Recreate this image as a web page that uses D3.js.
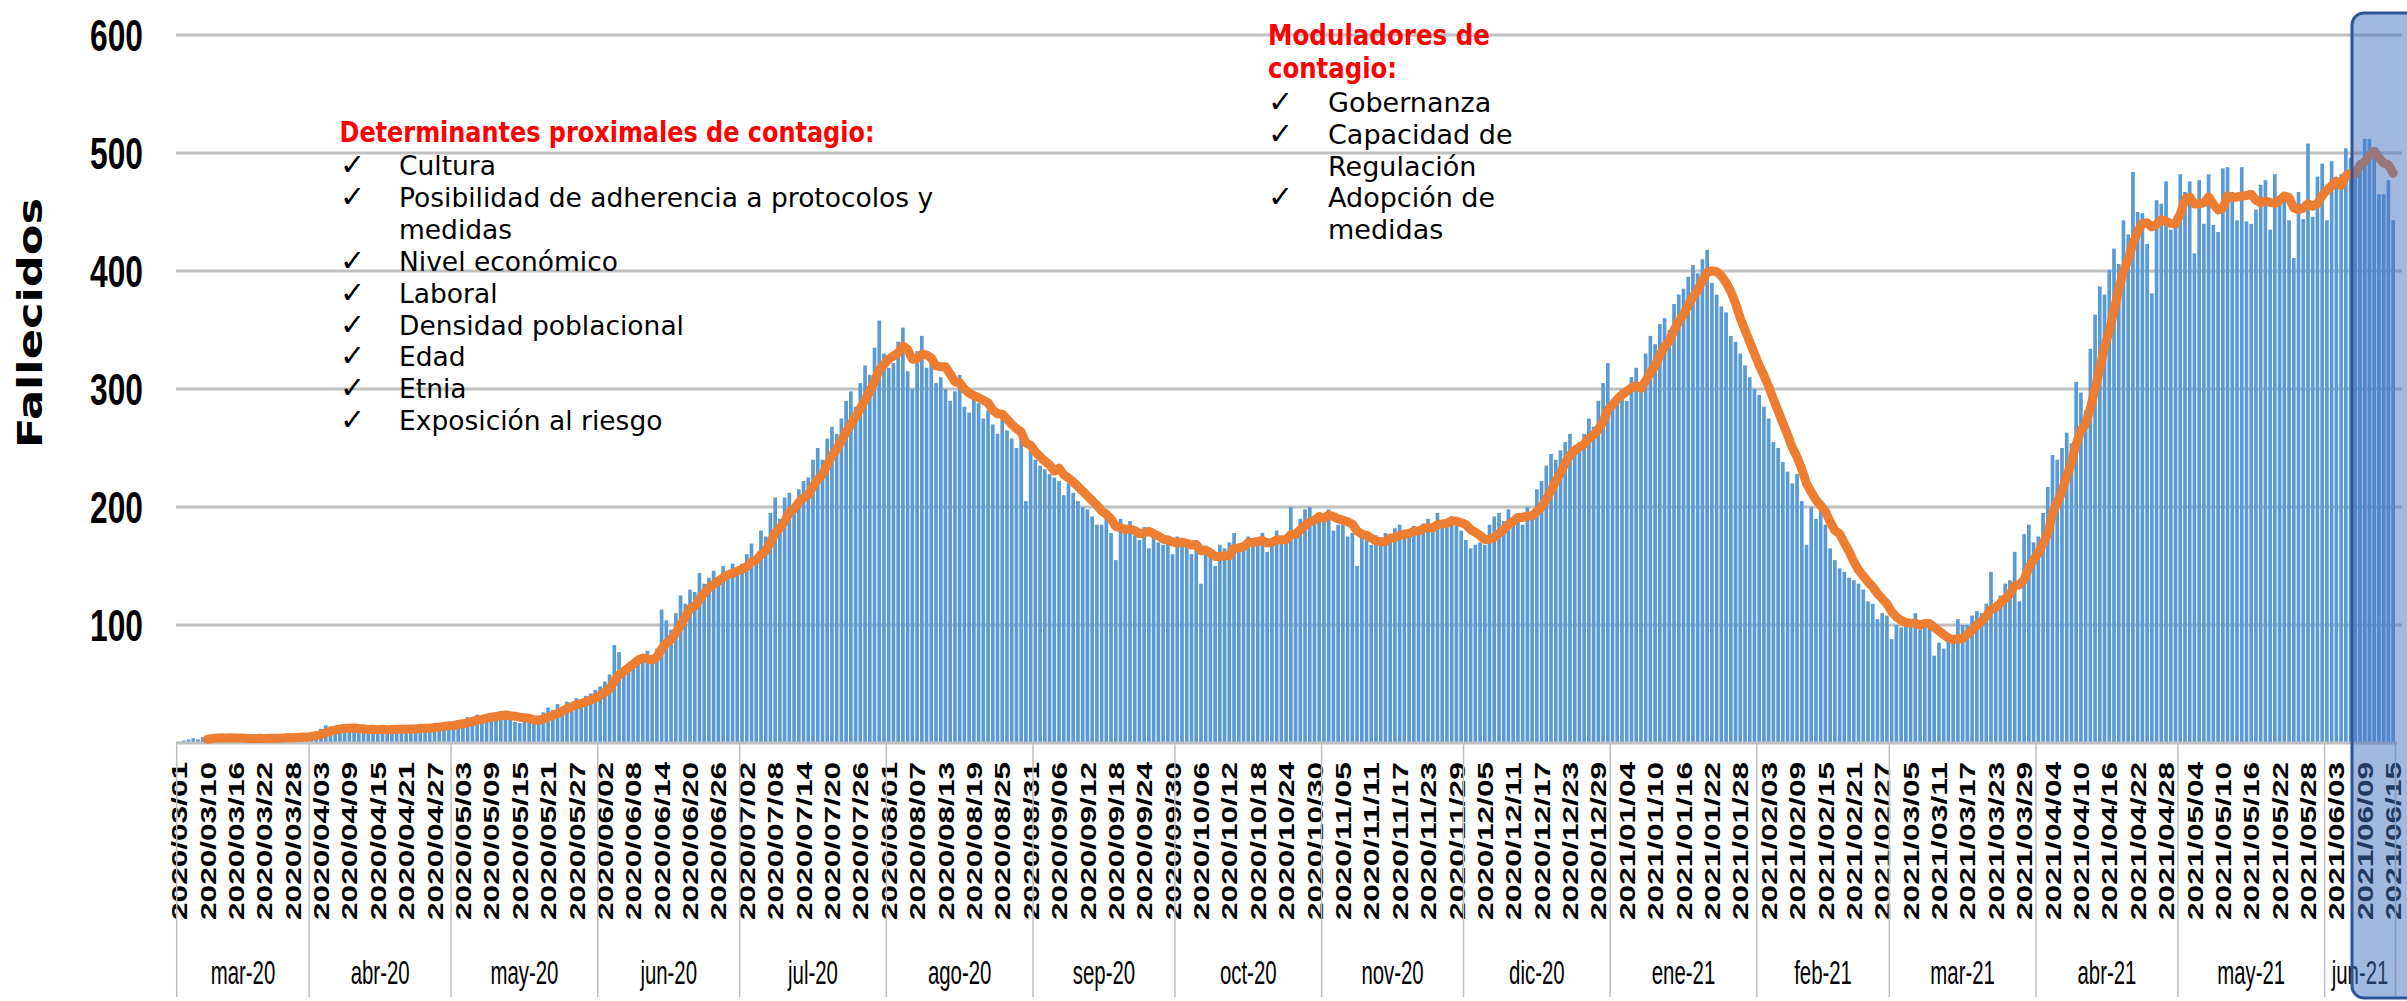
<!DOCTYPE html>
<html><head><meta charset="utf-8">
<script src="https://cdn.jsdelivr.net/npm/d3@7"></script>
<style>body{margin:0;background:#fff;overflow:hidden}</style>
</head><body>
<svg id="c" width="2407" height="1001"></svg>
<script>
// ---------- DATA ----------
const monthLabels = ["mar-20","abr-20","may-20","jun-20","jul-20","ago-20","sep-20","oct-20","nov-20","dic-20","ene-21","feb-21","mar-21","abr-21","may-21","jun-21"];
const monthYM = [[2020,3],[2020,4],[2020,5],[2020,6],[2020,7],[2020,8],[2020,9],[2020,10],[2020,11],[2020,12],[2021,1],[2021,2],[2021,3],[2021,4],[2021,5],[2021,6]];
const mar20Days = [1,5,6,7,8,9,10,11,12,13,14,15,16,17,18,19,20,21,22,23,24,25,26,27,28,29,30,31];
const mar20 = [1,2,3,4,3,5,4,6,5,4,3,4,3,5,4,3,4,5,3,4,5,4,5,6,4,5,6,5];
const abr20 = [8,10,12,15,14,13,11,12,10,14,11,13,9,12,10,13,11,12,14,10,12,11,13,15,12,14,16,13,15,17];
const may20 = [16,19,18,22,20,24,21,23,25,22,27,24,20,18,17,22,19,18,21,26,30,28,33,31,35,32,38,36,40,42,45];
const jun20 = [48,52,58,83,77,62,66,70,74,72,78,71,80,113,104,96,110,125,118,130,128,144,135,140,146,138,150,145,152,148];
const jul20 = [152,160,169,158,180,175,195,208,190,208,212,200,215,222,225,240,250,240,258,268,262,275,290,298,285,305,320,312,335,358,330];
const ago20 = [318,322,340,352,315,300,332,345,318,322,305,310,300,290,298,312,285,280,296,288,275,282,270,262,278,265,258,250,262,205,248];
const sep20 = [240,235,232,228,225,222,210,220,212,205,200,198,192,185,185,192,178,155,190,182,188,176,172,183,165,175,170,168,172,160];
const oct20 = [175,172,168,160,170,135,165,158,150,168,165,170,178,168,165,175,170,168,178,162,172,180,175,170,200,178,190,198,200,185,192];
const nov20 = [190,198,180,185,192,175,178,150,180,172,168,176,170,178,172,182,185,176,180,184,178,186,190,182,195,185,188,192,184,180];
const dic20 = [172,165,168,170,168,185,192,195,188,198,188,192,185,200,196,215,222,235,245,240,248,255,262,250,255,262,275,268,290,305,322];
const ene21 = [285,295,300,290,310,318,305,330,345,338,355,360,350,372,380,385,395,405,398,410,418,390,380,370,365,345,340,330,320,310,300];
const feb21 = [295,285,275,255,250,238,230,220,228,205,168,200,190,198,185,165,155,148,145,140,138,135,130,120,118,105,110,108];
const mar21 = [88,100,98,105,102,110,96,98,100,74,85,80,90,85,105,100,100,108,112,110,118,145,112,125,135,138,162,120,177,185,170];
const abr21 = [175,195,217,244,240,250,263,254,306,297,282,334,363,387,380,401,419,406,443,431,484,450,449,423,381,460,457,476,435,447];
const may21 = [482,467,476,415,477,440,482,439,433,487,488,467,443,488,442,440,452,473,477,435,482,460,466,443,411,467,444,508,446,480,491];
const jun21 = [443,493,471,482,504,496,488,494,512,512,505,465,465,477,443];
const monthValues = [mar20,abr20,may20,jun20,jul20,ago20,sep20,oct20,nov20,dic20,ene21,feb21,mar21,abr21,may21,jun21];
const yTicks = [100,200,300,400,500,600];
const yTitle = "Fallecidos";
const detTitle = "Determinantes proximales de contagio:";
const detItems = [["Cultura"],["Posibilidad de adherencia a protocolos y","medidas"],["Nivel económico"],["Laboral"],["Densidad poblacional"],["Edad"],["Etnia"],["Exposición al riesgo"]];
const modTitle = ["Moduladores de","contagio:"];
const modItems = [["Gobernanza"],["Capacidad de","Regulación"],["Adopción de","medidas"]];

// ---------- BUILD ----------
const pad = n => String(n).padStart(2,"0");
const cats = [], vals = [], monthStart = [];
monthValues.forEach((arr,m) => {
  monthStart.push(cats.length);
  const [yy,mm] = monthYM[m];
  arr.forEach((v,k) => {
    const d = m === 0 ? mar20Days[k] : k + 1;
    cats.push(`${yy}/${pad(mm)}/${pad(d)}`);
    vals.push(v);
  });
});
const n = cats.length;
// Excel-style 7-period moving-average trendline
const ma = vals.map((v,i) => i < 6 ? null : d3.mean(vals.slice(i-6,i+1)));

const svg = d3.select("#c");
const x = d3.scaleBand().domain(d3.range(n)).range([176.7, 2395.5]).paddingInner(0.22).paddingOuter(0.11);
const y = d3.scaleLinear().domain([0,600]).range([743,35]);
const half = x.step()*x.paddingInner()/2;

// gridlines
svg.append("g").selectAll("line").data(yTicks).join("line")
  .attr("x1",176).attr("x2",2402).attr("y1",d=>y(d)).attr("y2",d=>y(d))
  .attr("stroke","#c0c0c0").attr("stroke-width",3);
// y tick labels
svg.append("g").selectAll("text").data(yTicks).join("text")
  .attr("x",143).attr("y",d=>y(d)).attr("dy","0.36em").attr("text-anchor","end")
  .attr("font-family","Liberation Sans, Arial, sans-serif").attr("font-weight","bold").attr("font-size",44)
  .attr("textLength",53).attr("lengthAdjust","spacingAndGlyphs").attr("fill","#000")
  .text(d=>d);
// y title
svg.append("text").attr("transform","translate(30,323) scale(0.78,1) rotate(-90)")
  .attr("text-anchor","middle").attr("dy","0.36em")
  .attr("font-family","DejaVu Sans, sans-serif").attr("font-weight","bold").attr("font-size",44)
  .attr("textLength",250).attr("lengthAdjust","spacingAndGlyphs").text(yTitle);

// bars
svg.append("g").selectAll("rect").data(vals).join("rect")
  .attr("x",(d,i)=>x(i)).attr("width",x.bandwidth())
  .attr("y",d=>y(d)).attr("height",d=>y(0)-y(d)).attr("fill","#5b9bd5");
// axis line
svg.append("line").attr("x1",176).attr("x2",2397).attr("y1",y(0)).attr("y2",y(0))
  .attr("stroke","#c0c0c0").attr("stroke-width",3);

// moving average line
const line = d3.line().defined(d=>d!=null).x((d,i)=>x(i)+x.bandwidth()/2).y(d=>y(d));
svg.append("path").datum(ma).attr("d",line).attr("fill","none")
  .attr("stroke","#ed7d31").attr("stroke-width",9).attr("stroke-linejoin","round").attr("stroke-linecap","round");

// date labels every 6 categories
const tickIdx = d3.range(0,n,6);
svg.append("g").selectAll("text").data(tickIdx).join("text")
  .attr("transform",i=>`translate(${x(i)+x.bandwidth()/2},762) scale(0.75,1) rotate(-90)`)
  .attr("text-anchor","end").attr("dy","0.36em")
  .attr("font-family","Liberation Sans, Arial, sans-serif").attr("font-weight","bold").attr("font-size",30)
  .attr("textLength",158).attr("lengthAdjust","spacingAndGlyphs").attr("fill","#000")
  .text(i=>cats[i]);

// month dividers & labels
const bounds = monthStart.map(s => x(s)-half).concat([x(n-1)+x.bandwidth()+half]);
svg.append("g").selectAll("line").data(bounds).join("line")
  .attr("x1",d=>d).attr("x2",d=>d).attr("y1",y(0)).attr("y2",997)
  .attr("stroke","#bfbfbf").attr("stroke-width",1.5);
svg.append("g").selectAll("text").data(monthLabels).join("text")
  .attr("transform",(d,m)=>`translate(${(bounds[m]+bounds[m+1])/2},984) scale(0.6,1)`)
  .attr("text-anchor","middle")
  .attr("font-family","Liberation Sans, Arial, sans-serif").attr("font-size",34).attr("fill","#000")
  .text(d=>d);

// annotations: determinantes
const ann = svg.append("g").attr("font-family","DejaVu Sans, sans-serif");
ann.append("text").attr("x",339.5).attr("y",142).attr("fill","#ff0000").attr("font-weight","bold")
  .attr("font-size",28).attr("textLength",535).attr("lengthAdjust","spacingAndGlyphs").text(detTitle);
let ln = 0;
detItems.forEach(item => {
  ann.append("text").attr("x",340).attr("y",175+ln*31.9).attr("font-size",30).attr("fill","#000").text("✓");
  item.forEach(t => {
    ann.append("text").attr("x",399).attr("y",175+ln*31.9).attr("font-size",26.5).attr("fill","#000").text(t);
    ln++;
  });
});
// annotations: moduladores
modTitle.forEach((t,k) => {
  ann.append("text").attr("x",1268).attr("y",45+k*33).attr("fill","#ff0000").attr("font-weight","bold")
    .attr("font-size",28).attr("textLength",k===0?222:129).attr("lengthAdjust","spacingAndGlyphs").text(t);
});
ln = 0;
modItems.forEach(item => {
  ann.append("text").attr("x",1268).attr("y",112+ln*31.8).attr("font-size",30).attr("fill","#000").text("✓");
  item.forEach(t => {
    ann.append("text").attr("x",1328).attr("y",112+ln*31.8).attr("font-size",27).attr("fill","#000").text(t);
    ln++;
  });
});

// highlight box
svg.append("rect").attr("x",2352).attr("y",13).attr("width",90).attr("height",985).attr("rx",12)
  .attr("fill","#4472c4").attr("fill-opacity",0.5).attr("stroke","#2f5597").attr("stroke-width",3);
</script>
</body></html>
